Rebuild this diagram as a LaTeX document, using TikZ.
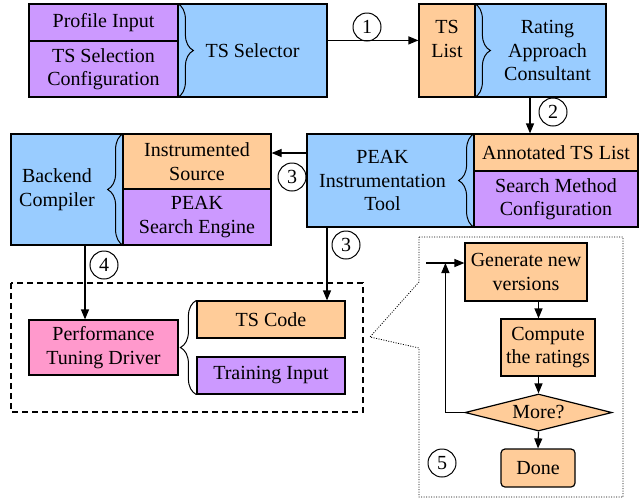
\documentclass[tikz,border=0pt]{standalone}
\usepackage{fontspec}
\setmainfont{LiberationSerif}[Extension=.ttf, UprightFont=*-Regular, BoldFont=*-Bold, ItalicFont=*-Italic]
\usetikzlibrary{shapes.geometric,decorations.pathreplacing,arrows.meta}

\definecolor{skyblue}{HTML}{99CCFF}
\definecolor{peach}{HTML}{FFCC99}
\definecolor{lilac}{HTML}{CC99FF}
\definecolor{rose}{HTML}{FF99CC}

\tikzset{
  box/.style={draw, line width=1.2pt, inner sep=0pt, align=center},
  bluebox/.style={box, fill=skyblue},
  orangebox/.style={box, fill=peach},
  purplebox/.style={box, fill=lilac},
  pinkbox/.style={box, fill=rose},
  every label/.style={align=center, inner sep=0pt},
  flow/.style={-{Triangle[length=10pt,width=8pt]}, line width=1.2pt},
  numcirc/.style={circle, draw, line width=1pt, minimum size=28pt, inner sep=0pt},
  bracedeco/.style={decorate, decoration={brace, amplitude=16pt}, line width=1pt},
  dashbox/.style={dash pattern=on 6pt off 4pt, line width=1.2pt},
  calloutline/.style={dash pattern=on 1pt off 1.5pt, line width=0.8pt},
}

\begin{document}
\begin{tikzpicture}[x=1pt, y=1pt, font=\rmfamily\fontsize{20}{23.5}\selectfont]
\useasboundingbox (0,0) rectangle (639,-499);

% top row
\node[purplebox, minimum width=149, minimum height=37] (pin) at (103.5,-22.5) {Profile Input};
\node[purplebox, minimum width=149, minimum height=56] (tsconf) at (103.5,-69) {TS Selection\\Configuration};
\node[bluebox, minimum width=149, minimum height=93] (tssel) at (252.5,-50.5) {TS Selector};
\node[orangebox, minimum width=56, minimum height=93, label={[yshift=11.5]center:{TS\\List}}] (tslist) at (447,-50.5) {};
\node[bluebox, minimum width=131, minimum height=93, label={[xshift=7]center:{Rating\\Approach\\Consultant}}] (rating) at (540.5,-50.5) {};

% middle row
\node[bluebox, minimum width=167, minimum height=93, label={[xshift=-8]center:{PEAK\\Instrumentation\\Tool}}] (peak) at (390.5,-180.5) {};
\node[orangebox, minimum width=164, minimum height=37] (annot) at (556,-152.5) {Annotated TS List};
\node[purplebox, minimum width=164, minimum height=56] (smconf) at (556,-199) {Search Method\\Configuration};
\node[bluebox, minimum width=112, minimum height=111, label={[xshift=-10]center:{Backend\\Compiler}}] (backend) at (67,-189.5) {};
\node[orangebox, minimum width=148, minimum height=55] (instr) at (197,-161.5) {Instrumented\\Source};
\node[purplebox, minimum width=148, minimum height=56] (engine) at (197,-217) {PEAK\\Search Engine};

% tuning driver
\draw[dashbox] (11,-283) rectangle (363,-412);
\node[pinkbox, minimum width=149, minimum height=55] (driver) at (103.5,-347.5) {Performance\\Tuning Driver};
\node[orangebox, minimum width=148, minimum height=37] (tscode) at (271,-319.5) {TS Code};
\node[purplebox, minimum width=148, minimum height=37] (train) at (271,-375.5) {Training Input};

% search loop
\draw[calloutline] (419,-237) -- (623,-237) -- (623,-497) -- (419,-497) -- (419,-348) -- (370,-337) -- (419,-282) -- cycle;
\node[orangebox, minimum width=122, minimum height=58] (gen) at (526,-272) {Generate new\\versions};
\node[orangebox, minimum width=94, minimum height=57] (rate) at (548,-347.5) {Compute\\the ratings};
\node[orangebox, diamond, aspect=4, minimum width=147, minimum height=37] (more) at (538.5,-412.5) {More?};
\node[orangebox, rounded corners=4pt, minimum width=74, minimum height=38] (done) at (538,-468) {Done};

% braces
\draw[bracedeco] (tssel.north west) -- (tssel.south west);
\draw[bracedeco] (rating.north west) -- (rating.south west);
\draw[bracedeco] (peak.south east) -- (peak.north east);
\draw[bracedeco] (backend.south east) -- (backend.north east);
\draw[bracedeco] (train.south west) -- (tscode.north west);

% connectors
\coordinate (s2) at ([xshift=-10.5]rating.south);
\coordinate (s3) at ([yshift=27.5]peak.west);
\coordinate (s3b) at ([xshift=-63.5]peak.south);
\coordinate (s4) at ([xshift=18]backend.south);
\coordinate (loop) at ([yshift=9]gen.west);
\coordinate (back) at ([xshift=-19]loop);
\coordinate (entry) at ([xshift=-38]loop);

\draw[flow] (tssel.east |- tsconf.north) -- (tslist.west |- tsconf.north);
\draw[flow] (s2) -- (s2 |- annot.north);
\draw[flow] (s3) -- (s3 -| instr.east);
\draw[flow] (s3b) -- (s3b |- tscode.north);
\draw[flow] (s4) -- (s4 |- driver.north);
\draw[flow] (gen.south -| more.north) -- (rate.north -| more.north);
\draw[flow] (rate.south -| more.north) -- (more.north);
\draw[flow] (more.south) -- (done.north);
\draw[flow] (more.west) -| (back);
\draw[flow] (entry) -- (loop);

% step numbers
\node[numcirc] (n1) at (367,-27) {1};
\node[numcirc] (n2) at (553,-112) {2};
\node[numcirc] (n3) at (292,-177) {3};
\node[numcirc] (n3b) at (346,-245) {3};
\node[numcirc] (n4) at (104,-265) {4};
\node[numcirc] (n5) at (442,-463) {5};
\end{tikzpicture}
\end{document}
